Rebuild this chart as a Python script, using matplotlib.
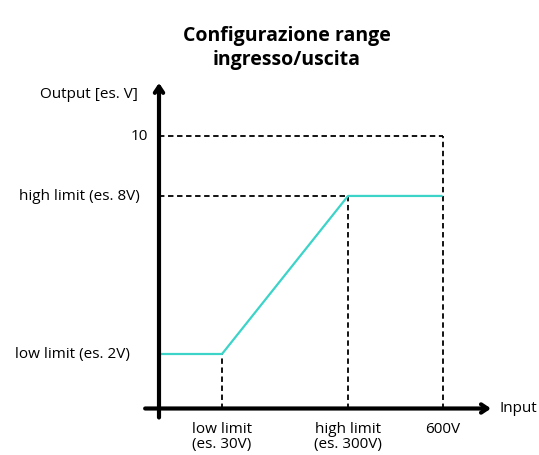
import matplotlib
matplotlib.use("Agg")
import matplotlib.pyplot as plt

plt.rcParams['font.family'] = ['Open Sans', 'DejaVu Sans']

# schematic positions (input axis is ordinal, output axis schematic)
x_points = [0, 1, 3, 4.5]          # origin, low limit, high limit, 600V
y_points = [2, 2, 7.8, 7.8]        # output levels
x_ticks = [1, 3, 4.5]
x_labels = ["low limit\n(es. 30V)", "high limit\n(es. 300V)", "600V"]
y_ticks = [2, 7.8, 10]
y_labels = ["low limit (es. 2V)", "high limit (es. 8V)", "10"]
y_max = 10

fig = plt.figure(figsize=(5.39, 4.56), dpi=100)
ax = fig.add_axes([0, 0, 1, 1])
ax.set_xlim(-159/63, (539-159)/63)
ax.set_ylim(-46.5/27.25, 409.5/27.25)
ax.axis('off')

# dashed guides
dash = dict(color='black', lw=1.3, ls=(0, (3, 2)))
ax.plot([x_ticks[0], x_ticks[0]], [0, y_points[1]], **dash)
ax.plot([x_ticks[1], x_ticks[1]], [0, y_points[2]], **dash)
ax.plot([0, x_ticks[1]], [y_points[2], y_points[2]], **dash)
ax.plot([x_ticks[2], x_ticks[2]], [0, y_max], **dash)
ax.plot([0, x_ticks[2]], [y_max, y_max], **dash)

# transfer line
ax.plot(x_points, y_points, color='#3CD3C8', lw=1.6, solid_capstyle='butt')

# axes arrows
arr = dict(arrowstyle='->,head_length=0.45,head_width=0.3', lw=3, color='black',
           shrinkA=0, shrinkB=0)
ax.annotate('', xy=(0, 11.95), xytext=(0, -0.33), arrowprops=arr)
ax.annotate('', xy=(5.27, 0), xytext=(-0.22, 0), arrowprops=arr)

fs = 11
# tick labels
for xt, lab in zip(x_ticks, x_labels):
    ax.text(xt, -0.45, lab, ha='center', va='top', fontsize=fs, linespacing=1.05)
right_edges = [-0.46, -0.31, -0.17]
for yt, lab, xr in zip(y_ticks, y_labels, right_edges):
    ax.text(xr, yt, lab, ha='right', va='center', fontsize=fs)

ax.text(-0.33, 11.55, "Output [es. V]", ha='right', va='center', fontsize=fs)
ax.text(5.4, 0.05, "Input", ha='left', va='center', fontsize=fs)

fig.text(287/539, 1 - 48/456, "Configurazione range\ningresso/uscita", ha='center', va='center',
         fontsize=14, fontweight='bold', linespacing=1.3)

fig.savefig("out.png", dpi=100)
